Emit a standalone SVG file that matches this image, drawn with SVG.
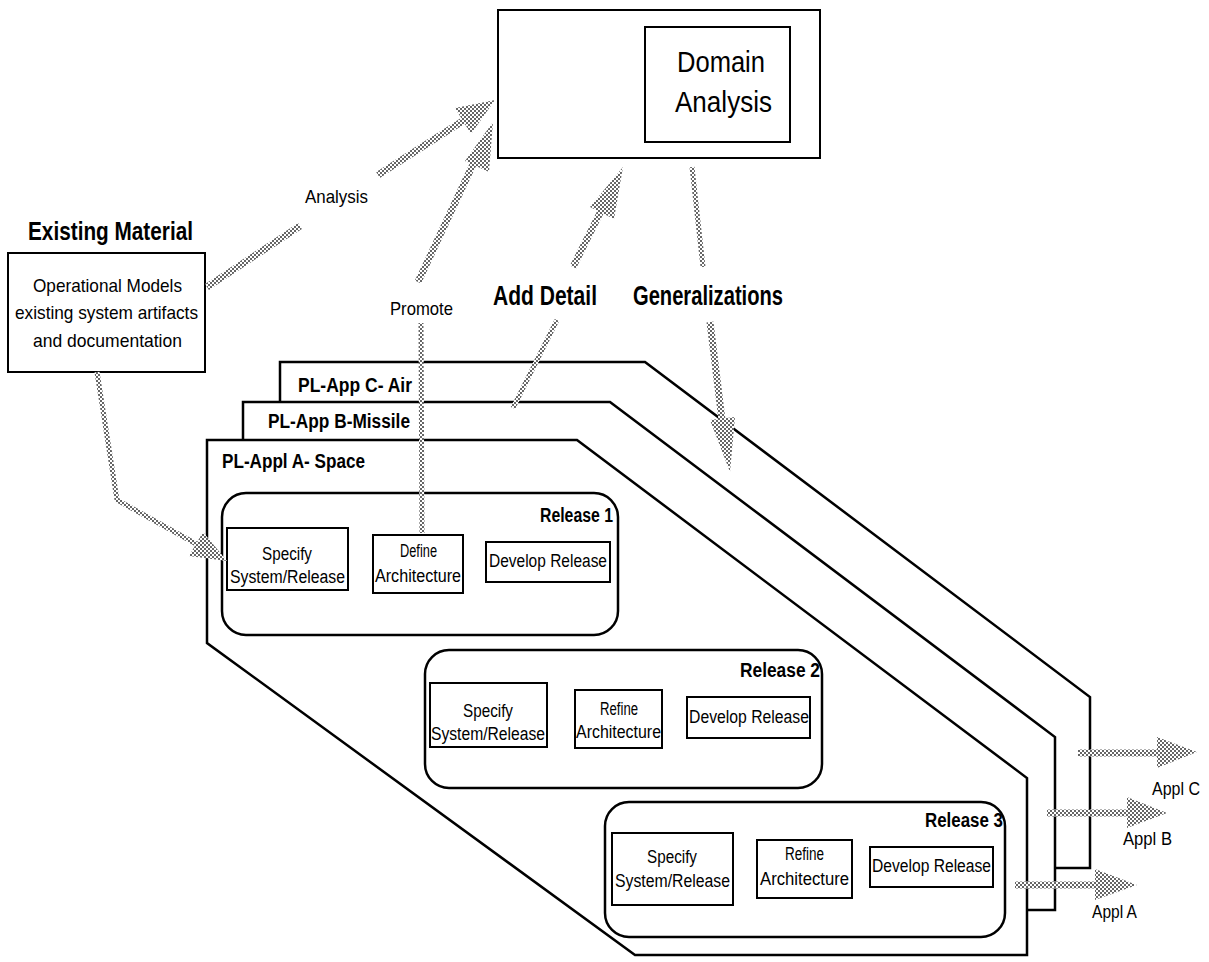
<svg xmlns="http://www.w3.org/2000/svg" width="1209" height="962" viewBox="0 0 1209 962">
<defs>
<pattern id="dots" width="4" height="4" patternUnits="userSpaceOnUse">
<rect width="4" height="4" fill="#fff"/>
<circle cx="1" cy="1" r="1" fill="#333"/>
<circle cx="3" cy="3" r="1" fill="#333"/>
</pattern>
<style>
text{font-family:"Liberation Sans",Arial,sans-serif;fill:#000}
.b{font-weight:bold}
.box{fill:#fff;stroke:#000;stroke-width:2}
.pl{fill:#fff;stroke:#000;stroke-width:2.5;stroke-linejoin:miter}
.rel{fill:#fff;stroke:#000;stroke-width:2.5}
.shaft{fill:none;stroke:url(#dots);stroke-width:7}
.thin{fill:none;stroke:url(#dots);stroke-width:5}
.head{fill:url(#dots);stroke:none}
.t16{font-size:16px}
.t18{font-size:18px}
.t20{font-size:20px}
</style>
</defs>
<rect width="1209" height="962" fill="#fff"/>

<g id="pl-c">
<polygon class="pl" points="280,362 645,362 1090,697 1090,868 700,868 280,560"/>
<text class="b t20" x="298" y="392" textLength="114" lengthAdjust="spacingAndGlyphs">PL-App C- Air</text>
</g>
<g id="pl-b">
<polygon class="pl" points="243,402 610,402 1055,737 1055,910 671,910 243,600"/>
<text class="b t20" x="268" y="428" textLength="142" lengthAdjust="spacingAndGlyphs">PL-App B-Missile</text>
</g>
<g id="pl-a">
<polygon class="pl" points="207,440 577,440 1027,778 1027,955 635,955 207,643"/>
<text class="b t20" x="222" y="468" textLength="143" lengthAdjust="spacingAndGlyphs">PL-Appl A- Space</text>
</g>

<g id="domain-analysis">
<rect class="box" x="498" y="10" width="322" height="148" stroke-width="2.5"/>
<rect class="box" x="645" y="27" width="145" height="115"/>
<text x="677" y="72" font-size="30" textLength="88" lengthAdjust="spacingAndGlyphs">Domain</text>
<text x="675" y="112" font-size="30" textLength="97" lengthAdjust="spacingAndGlyphs">Analysis</text>
</g>

<g id="existing-material">
<text class="b" x="28" y="240" font-size="25" textLength="165" lengthAdjust="spacingAndGlyphs">Existing Material</text>
<rect class="box" x="8" y="253" width="197" height="119"/>
<text x="33" y="292" font-size="19" textLength="149" lengthAdjust="spacingAndGlyphs">Operational Models</text>
<text x="15" y="319" font-size="19" textLength="183" lengthAdjust="spacingAndGlyphs">existing system artifacts</text>
<text x="33" y="347" font-size="19" textLength="149" lengthAdjust="spacingAndGlyphs">and documentation</text>
</g>

<g id="release-1">
<rect class="rel" x="222" y="493" width="396" height="142" rx="24"/>
<text class="b t20" x="540" y="522" textLength="73" lengthAdjust="spacingAndGlyphs">Release 1</text>
<rect class="box" x="227" y="528" width="121" height="62"/>
<text class="t18" x="262" y="560" textLength="50" lengthAdjust="spacingAndGlyphs">Specify</text>
<text class="t18" x="230" y="583" textLength="115" lengthAdjust="spacingAndGlyphs">System/Release</text>
<rect class="box" x="373" y="535" width="90" height="58"/>
<text class="t18" x="400" y="557" textLength="37" lengthAdjust="spacingAndGlyphs">Define</text>
<text class="t18" x="375" y="582" textLength="86" lengthAdjust="spacingAndGlyphs">Architecture</text>
<rect class="box" x="486" y="542" width="124" height="40"/>
<text class="t18" x="489" y="567" textLength="118" lengthAdjust="spacingAndGlyphs">Develop Release</text>
</g>

<g id="release-2">
<rect class="rel" x="425" y="650" width="397" height="138" rx="24"/>
<text class="b t20" x="740" y="677" textLength="80" lengthAdjust="spacingAndGlyphs">Release 2</text>
<rect class="box" x="430" y="683" width="117" height="64"/>
<text class="t18" x="463" y="717" textLength="50" lengthAdjust="spacingAndGlyphs">Specify</text>
<text class="t18" x="431" y="740" textLength="114" lengthAdjust="spacingAndGlyphs">System/Release</text>
<rect class="box" x="575" y="690" width="87" height="58"/>
<text class="t18" x="600" y="715" textLength="38" lengthAdjust="spacingAndGlyphs">Refine</text>
<text class="t18" x="576" y="738" textLength="85" lengthAdjust="spacingAndGlyphs">Architecture</text>
<rect class="box" x="687" y="697" width="123" height="41"/>
<text class="t18" x="689" y="723" textLength="120" lengthAdjust="spacingAndGlyphs">Develop Release</text>
</g>

<g id="release-3">
<rect class="rel" x="605" y="802" width="400" height="135" rx="24"/>
<text class="b t20" x="925" y="827" textLength="78" lengthAdjust="spacingAndGlyphs">Release 3</text>
<rect class="box" x="612" y="833" width="121" height="72"/>
<text class="t18" x="647" y="863" textLength="50" lengthAdjust="spacingAndGlyphs">Specify</text>
<text class="t18" x="615" y="887" textLength="115" lengthAdjust="spacingAndGlyphs">System/Release</text>
<rect class="box" x="757" y="840" width="95" height="58"/>
<text class="t18" x="785" y="860" textLength="39" lengthAdjust="spacingAndGlyphs">Refine</text>
<text class="t18" x="760" y="885" textLength="89" lengthAdjust="spacingAndGlyphs">Architecture</text>
<rect class="box" x="870" y="847" width="123" height="40"/>
<text class="t18" x="872" y="872" textLength="119" lengthAdjust="spacingAndGlyphs">Develop Release</text>
</g>

<g id="connectors">
<!-- Analysis -->
<line class="shaft" x1="207" y1="287" x2="300" y2="226"/>
<line class="shaft" x1="378" y1="175" x2="466" y2="119"/>
<polygon class="head" points="495,100 471,134 455,108"/>
<!-- Promote -->
<line class="thin" x1="422" y1="533" x2="421" y2="323"/>
<line class="shaft" x1="418" y1="282" x2="476" y2="158"/>
<polygon class="head" points="493,122 489,172 465,161"/>
<!-- Add Detail -->
<line class="thin" x1="513" y1="408" x2="557" y2="320"/>
<line class="shaft" x1="573" y1="267" x2="601" y2="211"/>
<polygon class="head" points="623,167 614,219 590,207"/>
<!-- Generalizations -->
<line class="thin" x1="692" y1="167" x2="703" y2="267"/>
<line class="shaft" x1="710" y1="322" x2="722" y2="420"/>
<polygon class="head" points="730,472 710,420 735,417"/>
<!-- Existing material to Specify -->
<polyline class="thin" points="97,372 117,500 200,546"/>
<polygon class="head" points="227,561 189,556 203,532"/>
<!-- Appl outputs -->
<line class="shaft" x1="1078" y1="753" x2="1158" y2="753"/>
<polygon class="head" points="1157,737 1197,752 1157,768"/>
<line class="shaft" x1="1047" y1="813" x2="1128" y2="813"/>
<polygon class="head" points="1127,797 1167,813 1127,828"/>
<line class="shaft" x1="1015" y1="885" x2="1096" y2="885"/>
<polygon class="head" points="1095,869 1137,885 1095,900"/>
</g>

<g id="labels">
<text x="305" y="203" font-size="19" textLength="63" lengthAdjust="spacingAndGlyphs">Analysis</text>
<text x="390" y="315" font-size="19" textLength="63" lengthAdjust="spacingAndGlyphs">Promote</text>
<text class="b" x="493" y="305" font-size="27" textLength="104" lengthAdjust="spacingAndGlyphs">Add Detail</text>
<text class="b" x="633" y="305" font-size="27" textLength="150" lengthAdjust="spacingAndGlyphs">Generalizations</text>
<text x="1152" y="795" font-size="18" textLength="48" lengthAdjust="spacingAndGlyphs">Appl C</text>
<text x="1123" y="845" font-size="18" textLength="49" lengthAdjust="spacingAndGlyphs">Appl B</text>
<text x="1092" y="918" font-size="18" textLength="45" lengthAdjust="spacingAndGlyphs">Appl A</text>
</g>
</svg>
